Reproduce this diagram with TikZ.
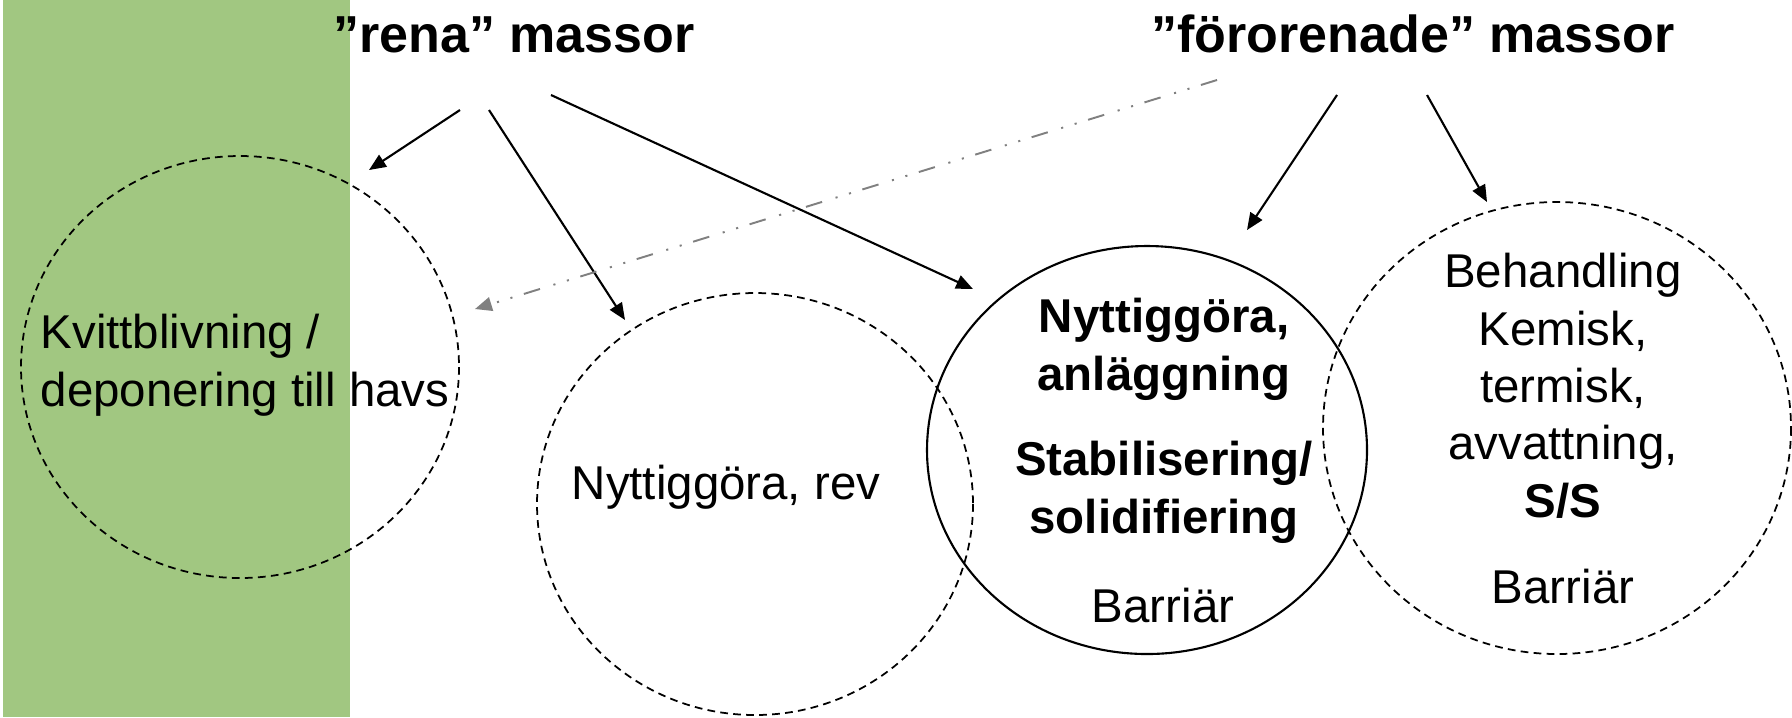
\documentclass[tikz,border=0pt]{standalone}
\usepackage{fontspec}
\setmainfont{Liberation Sans}
\usetikzlibrary{arrows.meta}
\definecolor{havsgron}{RGB}{161,199,129}
\definecolor{grapil}{RGB}{128,128,128}

\begin{document}
\begin{tikzpicture}[x=0.1mm, y=-0.1mm,
    rubrik/.style={font=\fontsize{14.8pt}{17pt}\selectfont\bfseries, inner sep=0pt, anchor=base},
    brodtext/.style={font=\fontsize{13.5pt}{16.3pt}\selectfont, inner sep=0pt, anchor=base, align=center},
    pil/.style={-{Triangle[length=4.8pt,width=4pt]}, line width=0.6pt},
    ring/.style={dash pattern=on 2.2pt off 1.5pt, line width=0.5pt}]
        \useasboundingbox (0,0) rectangle (1792,717);
        \fill[havsgron] (3,0) rectangle (350,717);

        % omraden
        \draw[ring] (240,367) ellipse [x radius=219, y radius=211];
        \draw[ring] (755,504) ellipse [x radius=218, y radius=211];
        \draw[line width=0.6pt] (1147,450) ellipse [x radius=220, y radius=204];
        \draw[ring] (1557,428) ellipse [x radius=234, y radius=226];

        % rubriker
        \node[rubrik] (rena) at (514,52) {”rena” massor};
        \node[rubrik] (fororenade) at (1413,52) {”förorenade” massor};

        % texter (base = sista radens baslinje)
        \node[brodtext, anchor=base west, align=left] (kvitt) at (40,406) {Kvittblivning /\\deponering till havs};
        \node[brodtext] (rev) at (726,499) {Nyttiggöra, rev};
        \node[brodtext, font=\fontsize{13.5pt}{16.3pt}\selectfont\bfseries] (anlagg) at (1164,390) {Nyttiggöra,\\anläggning};
        \node[brodtext, font=\fontsize{13.5pt}{16.3pt}\selectfont\bfseries] (stab) at (1164,533) {Stabilisering/\\solidifiering};
        \node[brodtext] (barr1) at (1163,622) {Barriär};
        \node[brodtext] (behandl) at (1563,517) {Behandling\\Kemisk,\\termisk,\\avvattning,\\\textbf{S/S}};
        \node[brodtext] (barr2) at (1563,603) {Barriär};

        % pilarnas ändar
        \coordinate (r1) at (460,110);
        \coordinate (r2) at (489,110);
        \coordinate (r3) at (551,95);
        \coordinate (f1) at (1337,95);
        \coordinate (f2) at (1427,95);
        \coordinate (f3) at (1217,80);
        \coordinate (kvittin) at (369,170);
        \coordinate (revin) at (625,320);
        \coordinate (anlaggin) at (973,289);
        \coordinate (stabin) at (1247,230);
        \coordinate (behandlin) at (1487,202);
        \coordinate (havin) at (475,309);

        \draw[pil] (r1) -- (kvittin);
        \draw[pil] (r2) -- (revin);
        \draw[pil] (r3) -- (anlaggin);
        \draw[pil] (f1) -- (stabin);
        \draw[pil] (f2) -- (behandlin);
        \draw[pil, grapil, line width=0.55pt, dash pattern=on 4.8pt off 3.4pt on 0.6pt off 3.4pt on 0.6pt off 4pt] (f3) -- (havin);
    \end{tikzpicture}
\end{document}
